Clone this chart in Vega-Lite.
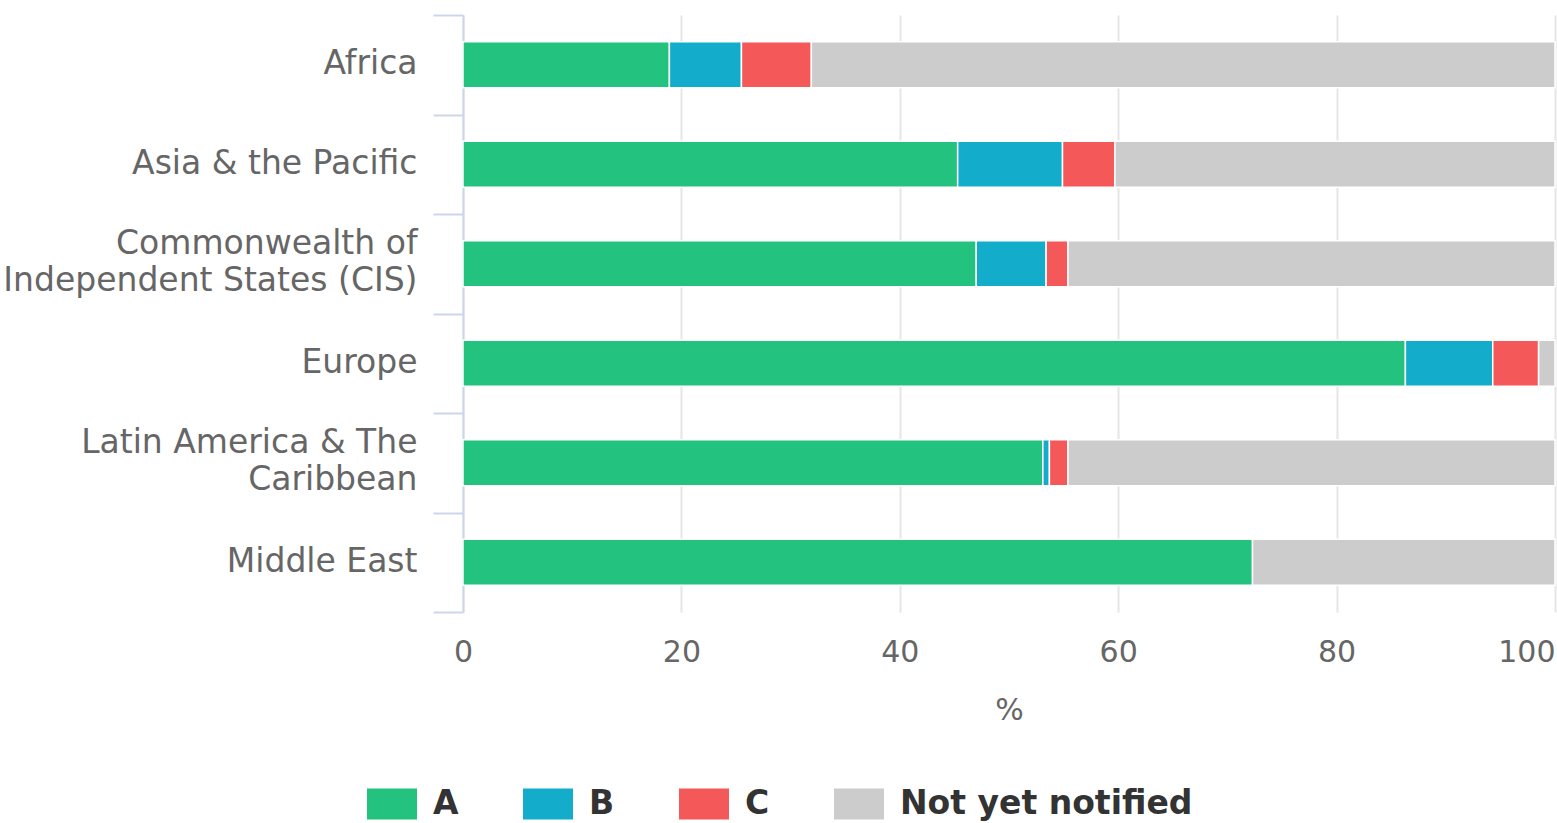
{
  "$schema": "https://vega.github.io/schema/vega-lite/v6.json",
  "autosize": "none",
  "padding": {"left": 463, "top": 15, "right": 2, "bottom": 211},
  "width": 1092,
  "height": 597,
  "background": "white",
  "config": {
    "view": {"stroke": null},
    "font": "DejaVu Sans"
  },
  "data": {
    "values": [
      {"region": "Africa", "status": "A", "pct": 18.9},
      {"region": "Africa", "status": "B", "pct": 6.6},
      {"region": "Africa", "status": "C", "pct": 6.4},
      {"region": "Africa", "status": "Not yet notified", "pct": 68.1},
      {"region": "Asia & the Pacific", "status": "A", "pct": 45.3},
      {"region": "Asia & the Pacific", "status": "B", "pct": 9.6},
      {"region": "Asia & the Pacific", "status": "C", "pct": 4.8},
      {"region": "Asia & the Pacific", "status": "Not yet notified", "pct": 40.3},
      {"region": "Commonwealth of Independent States (CIS)", "status": "A", "pct": 47.0},
      {"region": "Commonwealth of Independent States (CIS)", "status": "B", "pct": 6.4},
      {"region": "Commonwealth of Independent States (CIS)", "status": "C", "pct": 2.0},
      {"region": "Commonwealth of Independent States (CIS)", "status": "Not yet notified", "pct": 44.6},
      {"region": "Europe", "status": "A", "pct": 86.3},
      {"region": "Europe", "status": "B", "pct": 8.0},
      {"region": "Europe", "status": "C", "pct": 4.2},
      {"region": "Europe", "status": "Not yet notified", "pct": 1.5},
      {"region": "Latin America & The Caribbean", "status": "A", "pct": 53.1},
      {"region": "Latin America & The Caribbean", "status": "B", "pct": 0.6},
      {"region": "Latin America & The Caribbean", "status": "C", "pct": 1.7},
      {"region": "Latin America & The Caribbean", "status": "Not yet notified", "pct": 44.6},
      {"region": "Middle East", "status": "A", "pct": 72.3},
      {"region": "Middle East", "status": "Not yet notified", "pct": 27.7}
    ]
  },
  "mark": {"type": "bar", "height": {"band": 0.46}, "stroke": "white", "strokeWidth": 1.5},
  "encoding": {
    "y": {
      "field": "region",
      "type": "nominal",
      "sort": null,
      "scale": {"paddingInner": 0, "paddingOuter": 0},
      "axis": {
        "title": null,
        "tickBand": "extent",
        "tickSize": 30,
        "tickWidth": 2,
        "tickColor": "#ccd6eb",
        "domainColor": "#ccd6eb",
        "domainWidth": 2,
        "labelPadding": 16,
        "labelFont": "DejaVu Sans",
        "labelFontSize": 33,
        "labelColor": "#666666",
        "labelLineHeight": 37,
        "labelLimit": 600,
        "labelOffset": {"condition": {"test": "datum.value == 'Commonwealth of Independent States (CIS)' || datum.value == 'Latin America & The Caribbean'", "value": -20}, "value": -1},
        "labelExpr": "datum.value == 'Commonwealth of Independent States (CIS)' ? ['Commonwealth of', 'Independent States (CIS)'] : datum.value == 'Latin America & The Caribbean' ? ['Latin America & The', 'Caribbean'] : datum.label"
      }
    },
    "x": {
      "field": "pct",
      "type": "quantitative",
      "stack": "zero",
      "scale": {"domain": [0, 100], "nice": false},
      "axis": {
        "title": "%",
        "titleFont": "DejaVu Sans",
        "titleFontSize": 30,
        "titleFontWeight": "normal",
        "titleColor": "#666666",
        "titlePadding": 28,
        "values": [0, 20, 40, 60, 80, 100],
        "domain": false,
        "ticks": false,
        "labelPadding": 25,
        "labelFont": "DejaVu Sans",
        "labelFontSize": 30,
        "labelColor": "#666666",
        "labelAlign": {"condition": {"test": "datum.value == 100", "value": "right"}, "value": "center"},
        "grid": true,
        "gridColor": "#e6e6e6",
        "gridWidth": 2
      }
    },
    "color": {
      "field": "status",
      "type": "nominal",
      "scale": {
        "domain": ["A", "B", "C", "Not yet notified"],
        "range": ["#24c27f", "#13adcb", "#f45858", "#cccccc"]
      },
      "legend": {
        "title": null,
        "orient": "none",
        "direction": "horizontal",
        "legendX": -96,
        "legendY": 764,
        "symbolType": "M-1,-0.62H1V0.62H-1Z",
        "symbolSize": 2500,
        "symbolStrokeWidth": 0,
        "labelFont": "DejaVu Sans",
        "labelFontSize": 33,
        "labelFontWeight": "bold",
        "labelColor": "#333333",
        "labelOffset": 16,
        "columnPadding": 64,
        "labelLimit": 400
      }
    }
  }
}
